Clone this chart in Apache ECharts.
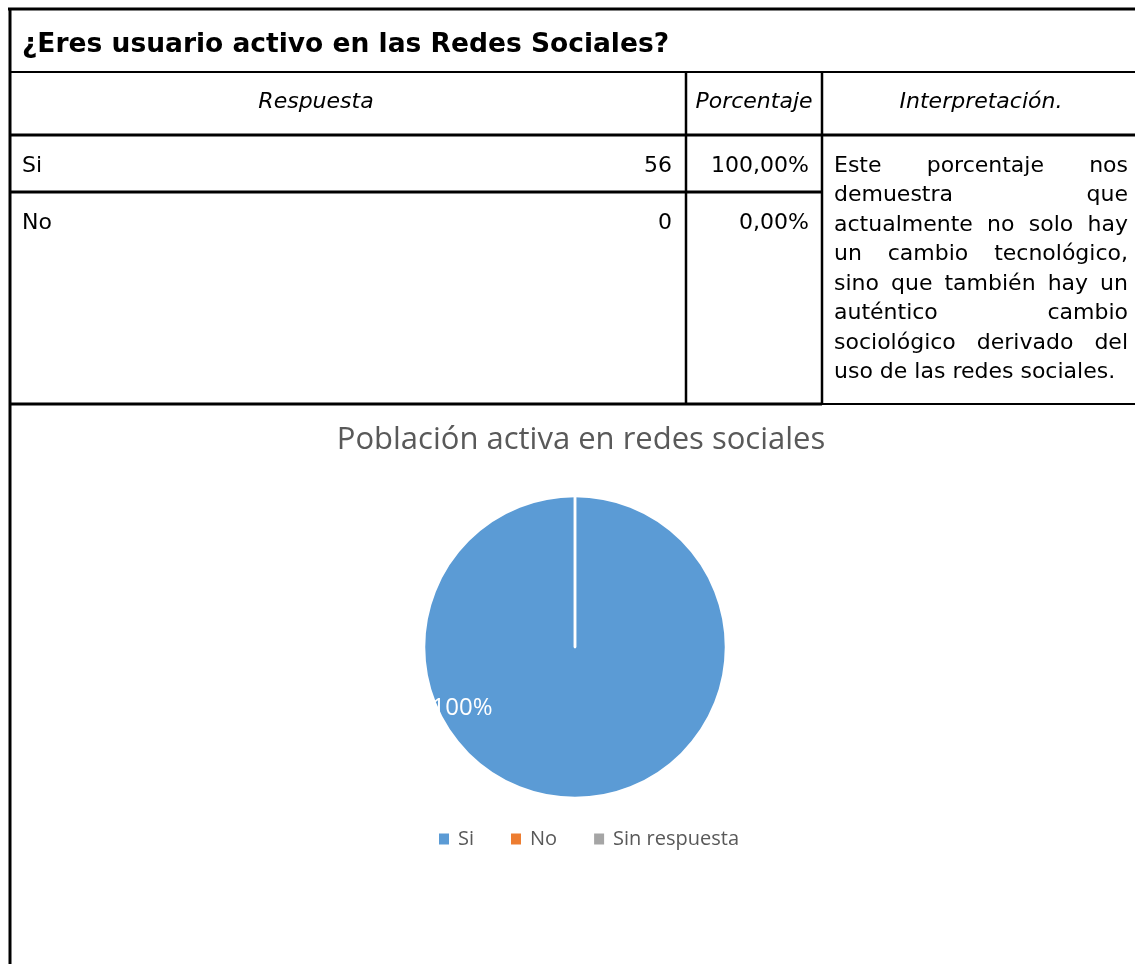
<!DOCTYPE html>
<html>
<head>
<meta charset="utf-8">
<title>¿Eres usuario activo en las Redes Sociales?</title>
<script src="https://cdn.jsdelivr.net/npm/echarts@6/dist/echarts.min.js"></script>
<style>
  html, body { margin: 0; padding: 0; background: #fff; }
  #chart { width: 1135px; height: 964px; }
</style>
</head>
<body>
<div id="chart"></div>
<script>
// Survey table values
const pregunta = '¿Eres usuario activo en las Redes Sociales?';
const encabezados = ['Respuesta', 'Porcentaje', 'Interpretación.'];
const respuestas = ['Si', 'No'];
const frecuencias = [56, 0];
const porcentajes = ['100,00%', '0,00%'];
const interpretacion = [
  'Este porcentaje nos',
  'demuestra que',
  'actualmente no solo hay',
  'un cambio tecnológico,',
  'sino que también hay un',
  'auténtico cambio',
  'sociológico derivado del',
  'uso de las redes sociales.'
];

// Pie chart values
const tituloGrafico = 'Población activa en redes sociales';
const categorias = ['Si', 'No', 'Sin respuesta'];
const valores = [56, 0, 0];
const colores = ['#5B9BD5', '#ED7D31', '#A5A5A5'];

const TABLE_FONT = '"DejaVu Sans", Verdana, sans-serif';
const TABLE_SIZE = 22;
const CHART_FONT = '"Open Sans", "Noto Sans", sans-serif';

const chart = echarts.init(document.getElementById('chart'), null, { renderer: 'canvas' });

// ---- table grid ----
const rule = (x1, y1, x2, y2, w) => ({
  type: 'line', silent: true,
  shape: { x1, y1, x2, y2 },
  style: { stroke: '#000', lineWidth: w }
});
const label = (text, x, y, align, extra) => ({
  type: 'text', silent: true, x, y,
  style: Object.assign({
    text, fill: '#000', font: TABLE_SIZE + 'px ' + TABLE_FONT,
    textAlign: align, textVerticalAlign: 'middle'
  }, extra || {})
});

const colLeft = 10, colNum = 686, colInterp = 822, rightEdge = 1135;
const rowTitle = 9, rowHead = 72, rowFirst = 135, rowSecond = 192, rowEnd = 404;

const grid = [
  rule(8, rowTitle, rightEdge, rowTitle, 3),
  rule(colLeft, 8, colLeft, 964, 3),
  rule(colLeft, rowHead, rightEdge, rowHead, 2),
  rule(colLeft, rowFirst, rightEdge, rowFirst, 3),
  rule(colLeft, rowSecond, colInterp, rowSecond, 3),
  rule(colLeft, rowEnd, colInterp, rowEnd, 3),
  rule(colInterp, rowEnd, rightEdge, rowEnd, 2),
  rule(colNum, rowHead, colNum, rowEnd, 2.5),
  rule(colInterp, rowHead, colInterp, rowEnd, 2.5)
];

const texts = [
  label(pregunta, 22, 45, 'left', { font: 'bold 26.5px ' + TABLE_FONT }),
  label(encabezados[0], 316, 102, 'center', { font: 'italic ' + TABLE_SIZE + 'px ' + TABLE_FONT }),
  label(encabezados[1], 754, 102, 'center', { font: 'italic ' + TABLE_SIZE + 'px ' + TABLE_FONT }),
  label(encabezados[2], 981, 102, 'center', { font: 'italic ' + TABLE_SIZE + 'px ' + TABLE_FONT })
];
const rowY = [166, 223];
respuestas.forEach((r, i) => {
  texts.push(label(r, 22, rowY[i], 'left'));
  texts.push(label(String(frecuencias[i]), 672, rowY[i], 'right'));
  texts.push(label(porcentajes[i], 809, rowY[i], 'right'));
});

// justified paragraph in the interpretation column
const measure = document.createElement('canvas').getContext('2d');
measure.font = TABLE_SIZE + 'px ' + TABLE_FONT;
const parLeft = 834, parRight = 1128, parTop = 166, parStep = 29.5;
interpretacion.forEach((line, i) => {
  const words = line.split(' ');
  const widths = words.map(w => measure.measureText(w).width);
  const total = widths.reduce((a, b) => a + b, 0);
  const last = i === interpretacion.length - 1;
  const gap = (!last && words.length > 1)
    ? (parRight - parLeft - total) / (words.length - 1)
    : measure.measureText(' ').width;
  let x = parLeft;
  words.forEach((w, k) => {
    texts.push(label(w, x, parTop + i * parStep, 'left'));
    x += widths[k] + gap;
  });
});

chart.setOption({
  animation: false,
  title: {
    text: tituloGrafico,
    left: 576,
    top: 420,
    textAlign: 'center',
    textStyle: { fontFamily: CHART_FONT, fontSize: 31, fontWeight: 'normal', color: '#595959' }
  },
  legend: {
    data: categorias,
    left: 439,
    top: 829,
    padding: 0,
    icon: 'rect',
    itemWidth: 10,
    itemHeight: 11,
    itemGap: 37,
    selectedMode: false,
    itemStyle: { borderWidth: 0 },
    textStyle: { fontFamily: CHART_FONT, fontSize: 20, color: '#595959', padding: [0, 0, 0, 4] }
  },
  color: colores,
  series: [{
    type: 'pie',
    center: [575, 647],
    radius: 151,
    startAngle: 90,
    clockwise: true,
    silent: true,
    itemStyle: { borderColor: '#fff', borderWidth: 2.5 },
    label: {
      show: true,
      position: 'inside',
      color: '#fff',
      fontFamily: CHART_FONT,
      fontSize: 24,
      formatter: p => (p.value > 0 ? Math.round(p.percent) + '%' : '')
    },
    labelLine: { show: false },
    labelLayout: p => (p.dataIndex === 0 ? { dx: -113, dy: -17 } : {}),
    emphasis: { disabled: true },
    data: categorias.map((name, i) => ({ name, value: valores[i] }))
  }],
  graphic: { elements: grid.concat(texts) }
});
</script>
</body>
</html>
